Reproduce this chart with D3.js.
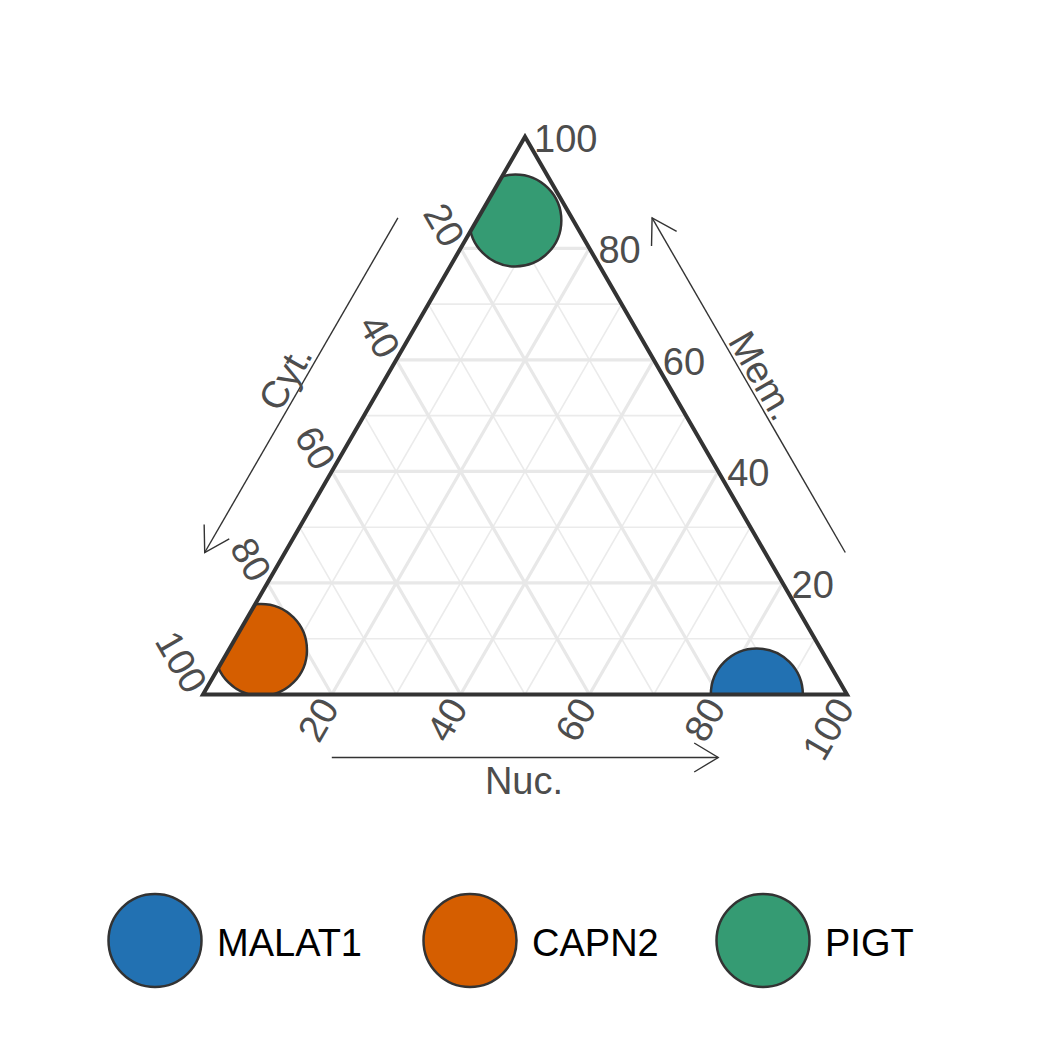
<!DOCTYPE html>
<html>
<head>
<meta charset="utf-8">
<script src="https://cdn.jsdelivr.net/npm/d3@7"></script>
<style>
  body { margin: 0; background: #fff; }
  text { font-family: "Liberation Sans", Arial, Helvetica, sans-serif; }
</style>
</head>
<body>
<div id="chart"></div>
<script>
// Data
const genes = ["MALAT1", "CAPN2", "PIGT"];
const nucValues = [86, 5, 6];
const cytValues = [14, 87, 9];
const memValues = [0, 8, 85];
const geneColors = ["#2271B2", "#D55E00", "#359B73"];

const tickValues = [20, 40, 60, 80, 100];
const majorGrid = [20, 40, 60, 80];
const minorGrid = [10, 30, 50, 70, 90];
const axisTitles = { nuc: "Nuc.", cyt: "Cyt.", mem: "Mem." };

// Layout
const W = 1050, H = 1050;
const triLeft = 203, triRight = 847, triBottom = 694.5;
const triSide = triRight - triLeft;
const triTop = triBottom - triSide * Math.sqrt(3) / 2;
const fontSize = 38;

const svg = d3.select("#chart").append("svg")
    .attr("width", W)
    .attr("height", H);

// Scales: horizontal position along base, vertical position by Mem.
const xScale = d3.scaleLinear().domain([0, 100]).range([triLeft, triRight]);
const yScale = d3.scaleLinear().domain([0, 100]).range([triBottom, triTop]);

// ternary (nuc, mem) -> [x, y]
const pos = (nuc, mem) => [xScale(nuc + mem / 2), yScale(mem)];

const corners = [pos(0, 0), pos(100, 0), pos(0, 100)];

const defs = svg.append("defs");

defs.append("clipPath")
    .attr("id", "tri-clip")
    .append("polygon")
    .attr("points", corners.map(p => p.join(",")).join(" "));

defs.append("marker")
    .attr("id", "arrow")
    .attr("viewBox", "-26 -16 28 32")
    .attr("refX", 0)
    .attr("refY", 0)
    .attr("markerWidth", 28)
    .attr("markerHeight", 32)
    .attr("markerUnits", "userSpaceOnUse")
    .attr("orient", "auto")
    .append("path")
    .attr("d", "M-24,-14.5L0,0L-24,14.5")
    .attr("fill", "none")
    .attr("stroke", "#333")
    .attr("stroke-width", 1.4);

// Grid lines for a given value on all three axes
function gridLines(v) {
    return [
        [pos(0, v), pos(100 - v, v)],          // Mem = v
        [pos(v, 0), pos(v, 100 - v)],          // Nuc = v
        [pos(100 - v, 0), pos(0, 100 - v)]     // Cyt = v
    ];
}

const grid = svg.append("g").attr("clip-path", "url(#tri-clip)");

grid.selectAll("line.minor")
    .data(minorGrid.flatMap(gridLines))
    .enter().append("line")
    .attr("class", "minor")
    .attr("x1", d => d[0][0]).attr("y1", d => d[0][1])
    .attr("x2", d => d[1][0]).attr("y2", d => d[1][1])
    .attr("stroke", "#ebebeb")
    .attr("stroke-width", 1.6);

grid.selectAll("line.major")
    .data(majorGrid.flatMap(gridLines))
    .enter().append("line")
    .attr("class", "major")
    .attr("x1", d => d[0][0]).attr("y1", d => d[0][1])
    .attr("x2", d => d[1][0]).attr("y2", d => d[1][1])
    .attr("stroke", "#e8e8e8")
    .attr("stroke-width", 3.2);

// Points (clipped to the triangle)
const points = genes.map((g, i) => ({
    gene: g, nuc: nucValues[i], cyt: cytValues[i], mem: memValues[i], color: geneColors[i]
}));

svg.append("g")
    .attr("clip-path", "url(#tri-clip)")
    .selectAll("circle")
    .data(points)
    .enter().append("circle")
    .attr("cx", d => pos(d.nuc, d.mem)[0])
    .attr("cy", d => pos(d.nuc, d.mem)[1])
    .attr("r", 46)
    .attr("fill", d => d.color)
    .attr("stroke", "#333")
    .attr("stroke-width", 2.5);

// Triangle border
svg.append("polygon")
    .attr("points", corners.map(p => p.join(",")).join(" "))
    .attr("fill", "none")
    .attr("stroke", "#333")
    .attr("stroke-width", 4)
    .attr("stroke-linejoin", "miter");

// Tick labels
const ticks = svg.append("g")
    .attr("fill", "#4d4d4d")
    .attr("font-size", fontSize);

// Nuc (bottom)
ticks.selectAll("text.nuc")
    .data(tickValues)
    .enter().append("text")
    .attr("class", "nuc")
    .attr("text-anchor", "end")
    .attr("dominant-baseline", "central")
    .attr("transform", d => {
        const p = pos(d, 0);
        return `translate(${p[0] - 3},${p[1] + 7}) rotate(-60)`;
    })
    .text(d => d);

// Cyt (left)
ticks.selectAll("text.cyt")
    .data(tickValues)
    .enter().append("text")
    .attr("class", "cyt")
    .attr("text-anchor", "end")
    .attr("dominant-baseline", "central")
    .attr("transform", d => {
        const p = pos(0, 100 - d);
        return `translate(${p[0] - 6},${p[1] - 5}) rotate(60)`;
    })
    .text(d => d);

// Mem (right)
ticks.selectAll("text.mem")
    .data(tickValues)
    .enter().append("text")
    .attr("class", "mem")
    .attr("text-anchor", "start")
    .attr("dominant-baseline", "central")
    .attr("x", d => pos(100 - d, d)[0] + 9)
    .attr("y", d => pos(100 - d, d)[1] + 2)
    .text(d => d);

// Axis arrows
const s3 = Math.sqrt(3) / 2;
const arrows = [
    // bottom: Nuc 20 -> 80
    { a: pos(20, 0), b: pos(80, 0), n: [0, 1], off: 63, shift: [0, 0] },
    // left: Cyt 20 -> 80
    { a: pos(0, 80), b: pos(0, 20), n: [-s3, -0.5], off: 69.5, shift: [-2.5, 4.3] },
    // right: Mem 20 -> 80
    { a: pos(80, 20), b: pos(20, 80), n: [s3, -0.5], off: 69.5, shift: [2.5, 4.3] }
].map(d => ({
    x1: d.a[0] + d.n[0] * d.off + d.shift[0],
    y1: d.a[1] + d.n[1] * d.off + d.shift[1],
    x2: d.b[0] + d.n[0] * d.off + d.shift[0],
    y2: d.b[1] + d.n[1] * d.off + d.shift[1]
}));

svg.append("g").selectAll("line")
    .data(arrows)
    .enter().append("line")
    .attr("x1", d => d.x1).attr("y1", d => d.y1)
    .attr("x2", d => d.x2).attr("y2", d => d.y2)
    .attr("stroke", "#333")
    .attr("stroke-width", 1.4)
    .attr("marker-end", "url(#arrow)");

// Axis titles
const titleG = svg.append("g")
    .attr("fill", "#4d4d4d")
    .attr("font-size", fontSize);

const mid = a => [(a.x1 + a.x2) / 2, (a.y1 + a.y2) / 2];

titleG.append("text")
    .attr("text-anchor", "middle")
    .attr("x", mid(arrows[0])[0] - 1)
    .attr("y", mid(arrows[0])[1] + 36)
    .text(axisTitles.nuc);

const cytMid = mid(arrows[1]);
titleG.append("text")
    .attr("text-anchor", "middle")
    .attr("dominant-baseline", "central")
    .attr("transform", `translate(${cytMid[0] - 16},${cytMid[1] - 7.5}) rotate(-60)`)
    .text(axisTitles.cyt);

const memMid = mid(arrows[2]);
titleG.append("text")
    .attr("text-anchor", "middle")
    .attr("dominant-baseline", "central")
    .attr("transform", `translate(${memMid[0] + 13.5},${memMid[1] - 9.5}) rotate(60)`)
    .text(axisTitles.mem);

// Legend
const legendX = [155, 470, 763];
const legend = svg.append("g")
    .selectAll("g")
    .data(points)
    .enter().append("g")
    .attr("transform", (d, i) => `translate(${legendX[i]},940.5)`);

legend.append("circle")
    .attr("r", 46.5)
    .attr("fill", d => d.color)
    .attr("stroke", "#333")
    .attr("stroke-width", 2.5);

legend.append("text")
    .attr("x", 62)
    .attr("y", 15)
    .attr("font-size", fontSize)
    .attr("fill", "#000")
    .text(d => d.gene);
</script>
</body>
</html>
